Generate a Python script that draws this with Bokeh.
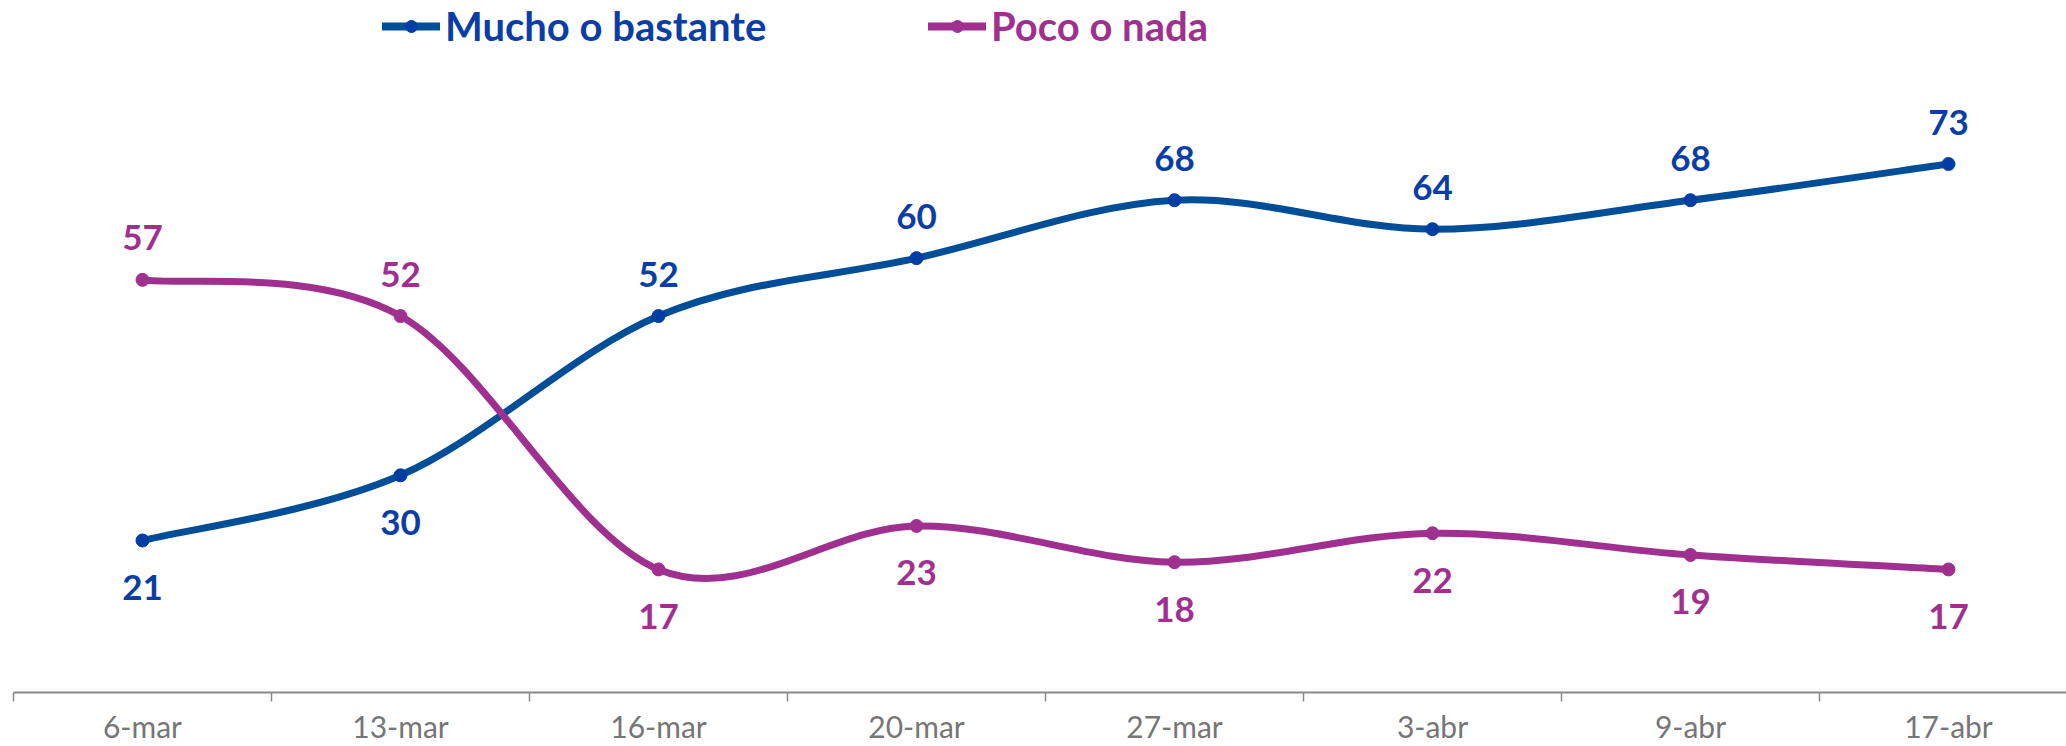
import numpy as np
from bokeh.plotting import figure
from bokeh.models import Range1d, FixedTicker, Legend, LegendItem, ColumnDataSource
from bokeh.core.properties import value
from bokeh.embed import file_html
from bokeh.resources import INLINE

# ---- data ----
categories = ["6-mar", "13-mar", "16-mar", "20-mar", "27-mar", "3-abr", "9-abr", "17-abr"]
mucho = [21, 30, 52, 60, 68, 64, 68, 73]
poco = [57, 52, 17, 23, 18, 22, 19, 17]
series_names = ["Mucho o bastante", "Poco o nada"]

# ---- styles ----
BLUE_LINE, BLUE_MARK, BLUE_TEXT = "#004E98", "#003DA5", "#0A3EA6"
PURP_LINE, PURP_MARK, PURP_TEXT = "#A03090", "#A03090", "#A03090"
AXIS_COL, TICKLBL_COL = "#8A8A8A", "#767676"
FONT = "Lato"

W, H = 2066, 746
LEFT = 13
CAT_W = 258.0
FRAME_H = 693
PX_PER_UNIT = 7.25

p = figure(width=W, height=H, output_backend="svg", toolbar_location=None,
           x_range=Range1d(-0.5, -0.5 + (W - LEFT) / CAT_W),
           y_range=Range1d(0, FRAME_H / PX_PER_UNIT),
           y_axis_location=None,
           min_border_left=LEFT, min_border_right=0, min_border_top=0, min_border_bottom=0)
p.outline_line_color = None
p.grid.visible = False
p.background_fill_color = "white"
p.border_fill_color = "white"

n = len(categories)
xs = list(range(n))

ax = p.xaxis[0]
ax.ticker = FixedTicker(ticks=xs, minor_ticks=[i - 0.5 for i in range(n + 1)])
ax.major_label_overrides = {i: c for i, c in enumerate(categories)}
ax.major_tick_line_color = None
ax.major_tick_out = 0
ax.major_tick_in = 0
ax.minor_tick_out = 9
ax.minor_tick_in = 0
ax.minor_tick_line_color = AXIS_COL
ax.minor_tick_line_width = 1.5
ax.axis_line_color = AXIS_COL
ax.axis_line_width = 2
ax.major_label_text_font = FONT
ax.major_label_text_font_size = "30px"
ax.major_label_text_color = TICKLBL_COL
ax.major_label_standoff = 6


def bezier_source(ys):
    x = np.arange(len(ys), dtype=float)
    y = np.array(ys, dtype=float)
    xp = np.concatenate([[x[0]], x, [x[-1]]])
    yp = np.concatenate([[y[0]], y, [y[-1]]])
    d = dict(x0=[], y0=[], x1=[], y1=[], cx0=[], cy0=[], cx1=[], cy1=[])
    for i in range(len(ys) - 1):
        p0x, p0y = xp[i], yp[i]
        p1x, p1y = xp[i + 1], yp[i + 1]
        p2x, p2y = xp[i + 2], yp[i + 2]
        p3x, p3y = xp[i + 3], yp[i + 3]
        d["x0"].append(p1x); d["y0"].append(p1y)
        d["x1"].append(p2x); d["y1"].append(p2y)
        d["cx0"].append(p1x + (p2x - p0x) / 6.0); d["cy0"].append(p1y + (p2y - p0y) / 6.0)
        d["cx1"].append(p2x - (p3x - p1x) / 6.0); d["cy1"].append(p2y - (p3y - p1y) / 6.0)
    return ColumnDataSource(d)


legend_renderers = []
specs = [(mucho, poco, BLUE_LINE, BLUE_MARK, BLUE_TEXT),
         (poco, mucho, PURP_LINE, PURP_MARK, PURP_TEXT)]
for ys, other, lc, mc, tc in specs:
    p.bezier(x0="x0", y0="y0", x1="x1", y1="y1", cx0="cx0", cy0="cy0", cx1="cx1", cy1="cy1",
             source=bezier_source(ys), line_color=lc, line_width=7, line_cap="round")
    lr = p.line(xs, ys, line_color=lc, line_width=8, line_cap="round", visible=False)
    legend_renderers.append((lr, lc, mc, tc))

scatters = []
for (ys, other, lc, mc, tc) in specs:
    sr = p.scatter(xs, ys, size=13, fill_color=mc, line_color=mc)
    scatters.append(sr)

# data labels: above if this series is higher than the other one, below otherwise
for (ys, other, lc, mc, tc) in specs:
    offs = [-42 if a > b else 47 for a, b in zip(ys, other)]
    src = ColumnDataSource(dict(x=xs, y=ys, t=[str(v) for v in ys], off=offs))
    p.text(x="x", y="y", text="t", y_offset="off", source=src,
           text_align="center", text_baseline="middle",
           text_font=value(FONT), text_font_style="bold", text_font_size="35px",
           text_color=tc)

legend_x = [369, 915]
for i, ((lr, lc, mc, tc), sr) in enumerate(zip(legend_renderers, scatters)):
    lg = Legend(items=[LegendItem(label=series_names[i], renderers=[lr, sr])],
                location=(legend_x[i], FRAME_H - 51), orientation="horizontal",
                glyph_width=58, glyph_height=30, label_standoff=5,
                padding=0, margin=0, border_line_color=None, background_fill_alpha=0,
                label_text_font=FONT, label_text_font_style="bold",
                label_text_font_size="40px", label_text_color=tc,
                label_text_baseline="middle")
    p.add_layout(lg)

open("out.html", "w").write(file_html(p, INLINE))
